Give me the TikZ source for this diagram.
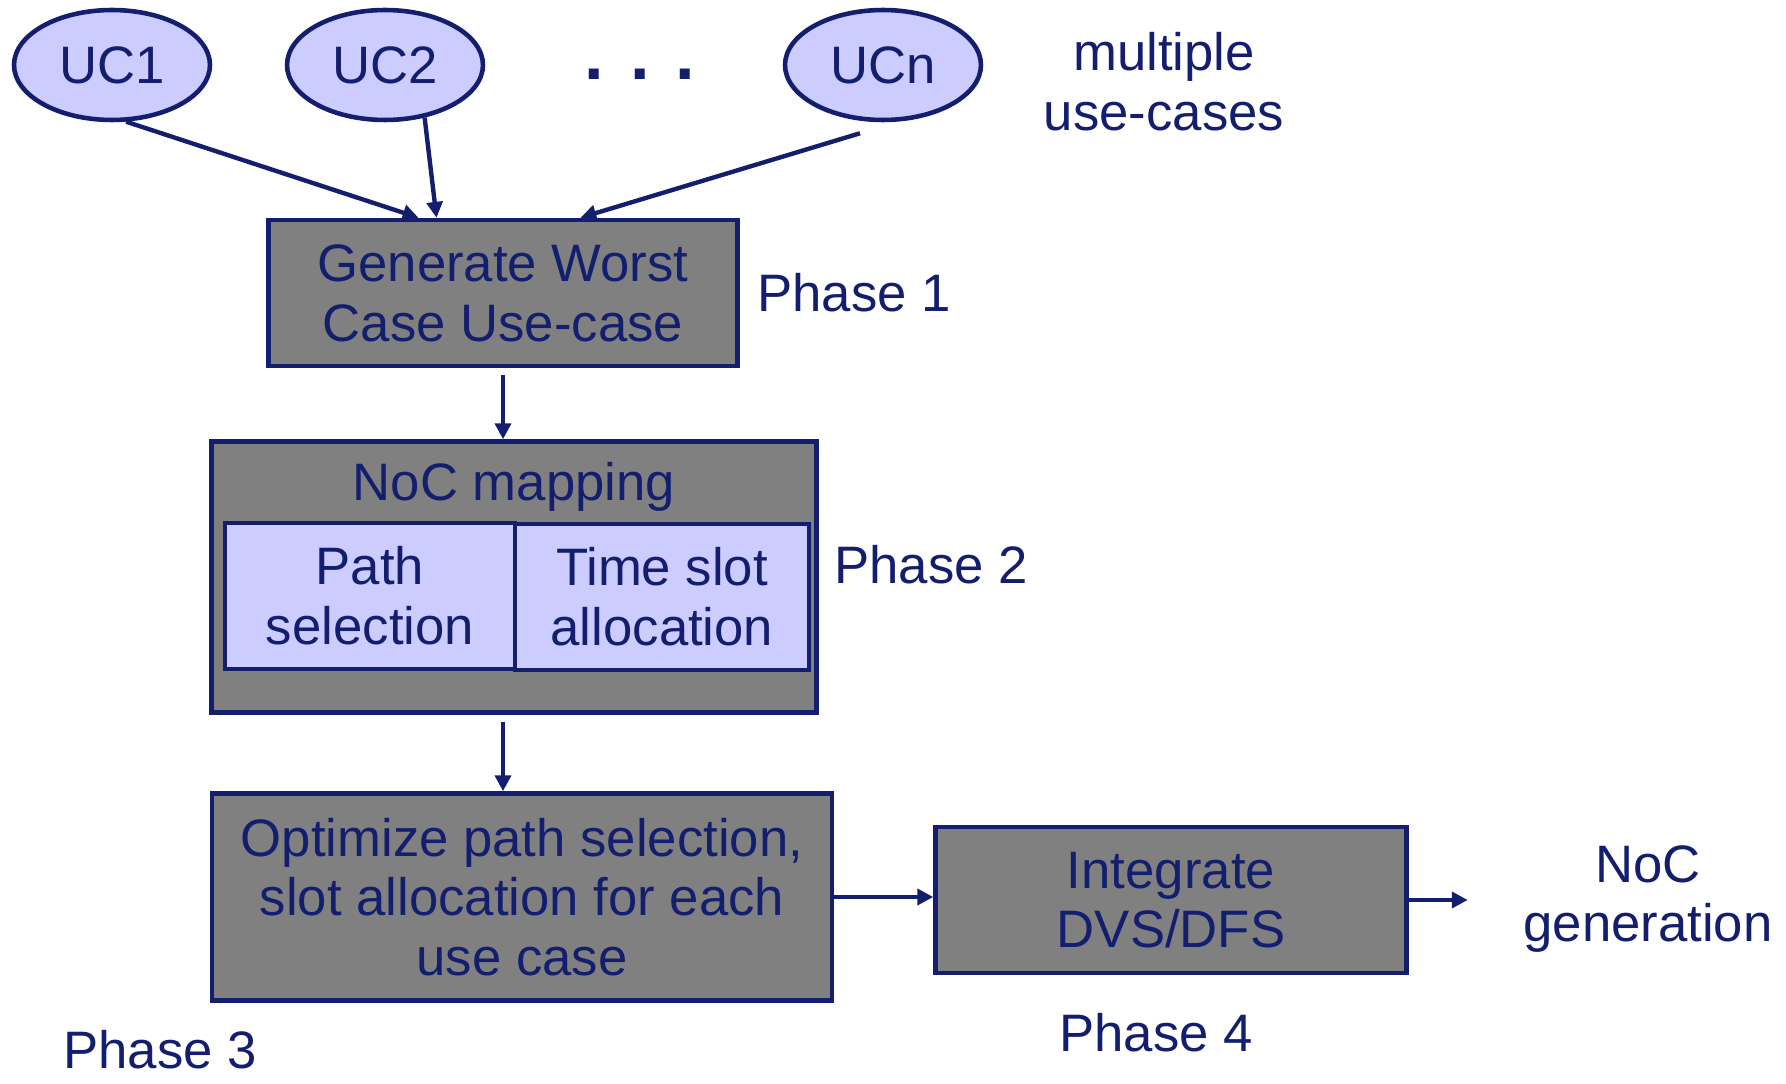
\documentclass[tikz,border=0pt]{standalone}
\usepackage{fontspec}
\setmainfont{Liberation Sans}
\usetikzlibrary{arrows.meta,shapes.geometric,positioning,calc}
\definecolor{mynavy}{RGB}{20,30,110}
\definecolor{mygray}{RGB}{128,128,128}
\definecolor{mylilac}{RGB}{204,204,255}

\begin{document}
\begin{tikzpicture}[x=0.02cm, y=-0.02cm,
  every node/.style={font=\fontsize{30}{34}\selectfont, text=mynavy, inner sep=0pt},
  phasebox/.style={draw=mynavy, fill=mygray, line width=2.6pt, rectangle, align=center},
  subbox/.style={draw=mynavy, fill=mylilac, line width=2.6pt, rectangle, align=center},
  usecase/.style={draw=mynavy, fill=mylilac, line width=2.6pt, ellipse,
    minimum width=3.92cm, minimum height=2.2cm},
  flow/.style={-{Triangle[length=9pt,width=9pt]}, mynavy, line width=2.5pt}]
  \useasboundingbox (0,0) rectangle (1786,1084);
  % --- use cases ---
  \node[usecase] (uc1) at (112,65) {UC1};
  \node[usecase] (uc2) at (385,65) {UC2};
  \node[usecase] (ucn) at (883,65) {UCn};
  \node[font=\fontsize{40}{40}\selectfont\bfseries] (dots) at (640,74) {. . .};
  \node[align=center] (multi) at (1164,82) {multiple\\use-cases};
  % --- phase 1 ---
  \node[phasebox, minimum width=9.38cm, minimum height=2.92cm] (gen) at (503,293)
    {Generate Worst\\Case Use-case};
  \node[anchor=west] (ph1) at (757,293) {Phase 1};
  % --- phase 2 ---
  \node[phasebox, minimum width=12.1cm, minimum height=5.42cm] (map) at (514,577) {};
  \node (maptitle) at (514,487) {NoC mapping};
  \node[subbox, minimum width=5.8cm, minimum height=2.92cm] (path) at (370,596)
    {Path\\selection};
  \node[subbox, minimum width=5.88cm, minimum height=2.92cm] (slot) at (662,597)
    {Time slot\\allocation};
  \node[anchor=west] (ph2) at (834,565) {Phase 2};
  % --- phase 3 ---
  \node[phasebox, minimum width=12.4cm, minimum height=4.14cm] (opt) at (522,897)
    {Optimize path selection,\\slot allocation for each\\use case};
  \node[anchor=west] (ph3) at (63,1050) {Phase 3};
  % --- phase 4 ---
  \node[phasebox, minimum width=9.42cm, minimum height=2.92cm] (dvs) at (1171,900)
    {Integrate\\DVS/DFS};
  \node (ph4) at (1156,1033) {Phase 4};
  \node[align=center] (out) at (1648,899) {NoC\\generation};
  \coordinate (sink) at ([xshift=1.18cm]dvs.east);
  % --- connectors ---
  \draw[flow] (uc1.-76) -- ([xshift=-1.69cm]gen.north);
  \draw[flow] (uc2.-53) -- ([xshift=-1.33cm]gen.north);
  \draw[flow] ([xshift=-0.46cm,yshift=-0.22cm]ucn.south) -- ([xshift=1.55cm]gen.north);
  \draw[flow, shorten <=0.14cm] (gen.south) -- (gen.south |- map.north);
  \draw[flow, shorten <=0.14cm] (map.south -| gen.south) -- (gen.south |- opt.north);
  \draw[flow] (opt.east) -- (opt.east -| dvs.west);
  \draw[flow] (dvs.east) -- (sink);
\end{tikzpicture}
\end{document}
